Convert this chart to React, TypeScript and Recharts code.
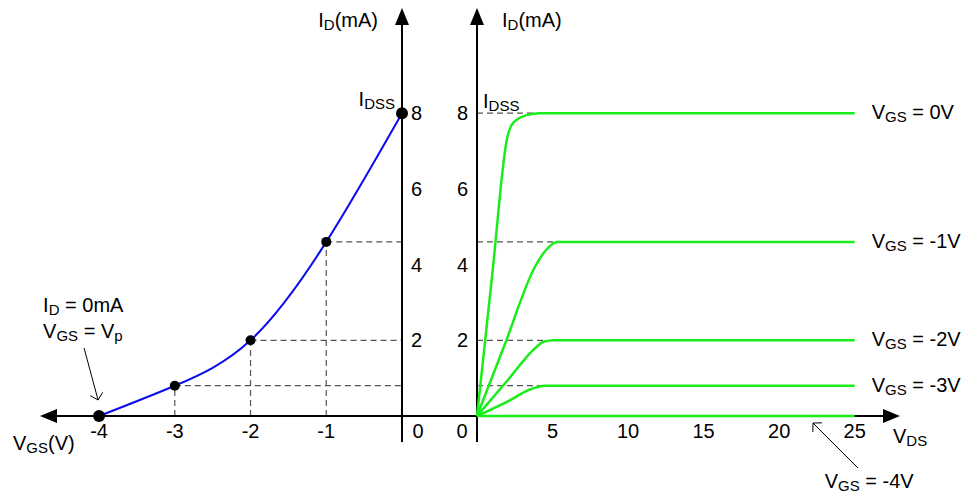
import { LineChart, Line, XAxis, YAxis, ReferenceLine, ReferenceDot } from "recharts";

const FONT = '"Liberation Sans", Arial, sans-serif';
const BLUE = "#0a0af0";
const GREEN = "#1aee1a";
const DASH = "#555";

// transfer curve (left)
const vgsPoints = [-4, -3, -2, -1, 0];
const idPoints = [0, 0.8, 2, 4.6, 8];
const vgsTicks = [-4, -3, -2, -1];

// drain curves (right)
const vgsNames = ["0V", "-1V", "-2V", "-3V", "-4V"];
const idSat = [8, 4.6, 2, 0.8, 0];
const kneeVds = [4.2, 5.3, 4.4, 4.4];
const vdsCurves = [
  [0, 1.0, 2.0, 2.4, 3.3, 4.2, 25],
  [0, 1.8, 3.85, 4.6, 5.3, 25],
  [0, 2.0, 3.95, 4.4, 5.1, 25],
  [0, 2.2, 3.5, 4.5, 25],
  [0, 25],
];
const idCurves = [
  [0, 3.7, 7.35, 7.75, 7.95, 8, 8],
  [0, 1.85, 3.95, 4.4, 4.6, 4.6],
  [0, 0.93, 1.83, 1.96, 2, 2],
  [0, 0.42, 0.7, 0.8, 0.8],
  [0, 0],
];
const vdsTicks = [5, 10, 15, 20, 25];
const idTicks = [2, 4, 6, 8];

const Y_MAX = 10.78;
const Y_MIN = -0.69;
const L_MIN = -4.78;
const R_MAX = 28;

const transfer = vgsPoints.map((x, i) => ({ x, y: idPoints[i] }));
const drain = vdsCurves.map((xs, k) => xs.map((x, i) => ({ x, y: idCurves[k][i] })));

const FS = 20;
const SUB_FS = 15;

type Part = { t: string; sub?: boolean };
const P = (t: string): Part => ({ t });
const S = (t: string): Part => ({ t, sub: true });

function Rich({ x, y, parts, anchor = "start" }: { x: number; y: number; parts: Part[]; anchor?: string }) {
  let down = false;
  return (
    <text x={x} y={y} textAnchor={anchor as any} fontFamily={FONT} fontSize={FS} fill="#000">
      {parts.map((p, i) => {
        const dy = p.sub ? (down ? 0 : 3) : down ? -3 : 0;
        down = !!p.sub;
        return (
          <tspan key={i} dy={dy} fontSize={p.sub ? SUB_FS : FS}>
            {p.t}
          </tspan>
        );
      })}
    </text>
  );
}

const note = (parts: Part[], dx: number, dy: number, anchor = "start") => (props: any) =>
  <Rich x={props.cx + dx} y={props.cy + dy} parts={parts} anchor={anchor} />;

// axis line with filled arrow head at the second point
const axisArrow = (props: any) => {
  const { x1, y1, x2, y2 } = props;
  const len = Math.hypot(x2 - x1, y2 - y1) || 1;
  const ux = (x2 - x1) / len;
  const uy = (y2 - y1) / len;
  const bx = x2 - ux * 17;
  const by = y2 - uy * 17;
  const px = -uy * 7;
  const py = ux * 7;
  return (
    <g>
      <line x1={x1} y1={y1} x2={bx} y2={by} stroke="#000" strokeWidth={2} />
      <polygon points={`${x2},${y2} ${bx + px},${by + py} ${bx - px},${by - py}`} fill="#000" />
    </g>
  );
};

// thin pointer with open head, offsets relative to the anchor point
const pointer = (tx: number, ty: number, hx: number, hy: number) => (props: any) => {
  const x1 = props.cx + tx;
  const y1 = props.cy + ty;
  const x2 = props.cx + hx;
  const y2 = props.cy + hy;
  const a = Math.atan2(y1 - y2, x1 - x2);
  const arm = (d: number) => [x2 + 9 * Math.cos(a + d), y2 + 9 * Math.sin(a + d)];
  const [ax, ay] = arm(0.8);
  const [bx, by] = arm(-0.8);
  return (
    <g stroke="#000" strokeWidth={1} fill="none">
      <line x1={x1} y1={y1} x2={x2} y2={y2} />
      <polyline points={`${ax},${ay} ${x2},${y2} ${bx},${by}`} />
    </g>
  );
};

const dashProps = { stroke: DASH, strokeWidth: 1.2, strokeDasharray: "6 4", ifOverflow: "visible" as const };
const tickStyle = { fontSize: FS, fontFamily: FONT, fill: "#000" };

const TransferDot = (props: any) => {
  const { cx, cy, index } = props;
  const r = index === 0 || index === vgsPoints.length - 1 ? 6 : 5;
  return <circle key={index} cx={cx} cy={cy} r={r} fill="#000" />;
};

const layer: React.CSSProperties = { position: "absolute", left: 0, top: 0 };

// back layer: axes and guide lines (no series, so a fixed domain is forced);
// front layer: series and text, unclipped so the end dots stay whole
function LeftChart({ front }: { front: boolean }) {
  return (
    <LineChart width={480} height={497} margin={{ top: 8, right: 38, left: 40, bottom: 51 }}>
      <XAxis
        dataKey="x"
        type="number"
        domain={[L_MIN, 0]}
        allowDataOverflow={!front}
        ticks={vgsTicks}
        axisLine={false}
        tickLine={false}
        tickSize={0}
        tickMargin={8}
        height={30}
        tick={front ? tickStyle : false}
      />
      <YAxis
        orientation="right"
        type="number"
        domain={[0, Y_MAX]}
        allowDataOverflow={!front}
        ticks={idTicks}
        axisLine={false}
        tickLine={false}
        tickSize={0}
        tickMargin={9}
        width={40}
        tick={front ? tickStyle : false}
      />
      {!front &&
        vgsPoints.slice(1, 4).map((v, i) => (
          <ReferenceLine key={"h" + v} segment={[{ x: v, y: idPoints[i + 1] }, { x: 0, y: idPoints[i + 1] }]} {...dashProps} />
        ))}
      {!front &&
        vgsPoints.slice(1, 4).map((v, i) => (
          <ReferenceLine key={"v" + v} segment={[{ x: v, y: 0 }, { x: v, y: idPoints[i + 1] }]} {...dashProps} />
        ))}
      {!front && <ReferenceLine segment={[{ x: 0.99, y: 0 }, { x: L_MIN, y: 0 }]} ifOverflow="visible" shape={axisArrow} />}
      {!front && <ReferenceLine segment={[{ x: 0, y: Y_MIN }, { x: 0, y: Y_MAX }]} ifOverflow="visible" shape={axisArrow} />}
      {front && (
        <Line
          data={transfer}
          dataKey="y"
          type="natural"
          stroke={BLUE}
          strokeWidth={2}
          dot={TransferDot}
          activeDot={false}
          isAnimationActive={false}
        />
      )}
      {front && <ReferenceDot x={0} y={Y_MAX} r={1} ifOverflow="visible" shape={note([P("I"), S("D"), P("(mA)")], -24, 18.5, "end")} />}
      {front && <ReferenceDot x={0} y={8} r={1} ifOverflow="visible" shape={note([P("I"), S("DSS")], -7, -7, "end")} />}
      {front && <ReferenceDot x={0} y={0} r={1} ifOverflow="visible" shape={note([P("0")], 16, 22, "middle")} />}
      {front && <ReferenceDot x={-4} y={0} r={1} ifOverflow="visible" shape={note([P("I"), S("D"), P(" = 0mA")], -56, -104.5)} />}
      {front && <ReferenceDot x={-4} y={0} r={1} ifOverflow="visible" shape={note([P("V"), S("GS"), P(" = V"), S("p")], -56, -78)} />}
      {front && <ReferenceDot x={-4} y={0} r={1} ifOverflow="visible" shape={pointer(-15, -68, -1, -16)} />}
      {front && <ReferenceDot x={L_MIN} y={0} r={1} ifOverflow="visible" shape={note([P("V"), S("GS"), P("(V)")], -27, 34)} />}
    </LineChart>
  );
}

function RightChart({ front }: { front: boolean }) {
  return (
    <LineChart width={964} height={497} margin={{ top: 8, right: 64, left: 437, bottom: 51 }}>
      <XAxis
        dataKey="x"
        type="number"
        domain={[0, R_MAX]}
        allowDataOverflow={!front}
        ticks={vdsTicks}
        axisLine={false}
        tickLine={false}
        tickSize={0}
        tickMargin={8}
        height={30}
        tick={front ? tickStyle : false}
      />
      <YAxis
        orientation="left"
        type="number"
        domain={[0, Y_MAX]}
        allowDataOverflow={!front}
        ticks={idTicks}
        axisLine={false}
        tickLine={false}
        tickSize={0}
        tickMargin={9}
        width={40}
        tick={front ? tickStyle : false}
      />
      {!front &&
        kneeVds.map((k, i) => (
          <ReferenceLine key={"d" + i} segment={[{ x: 0, y: idSat[i] }, { x: k, y: idSat[i] }]} {...dashProps} />
        ))}
      {!front && <ReferenceLine segment={[{ x: 0, y: 0 }, { x: R_MAX, y: 0 }]} ifOverflow="visible" shape={axisArrow} />}
      {!front && <ReferenceLine segment={[{ x: 0, y: Y_MIN }, { x: 0, y: Y_MAX }]} ifOverflow="visible" shape={axisArrow} />}
      {front &&
        drain.map((d, i) => (
          <Line
            key={vgsNames[i]}
            data={d}
            dataKey="y"
            type="monotone"
            stroke={GREEN}
            strokeWidth={2.5}
            dot={false}
            activeDot={false}
            isAnimationActive={false}
          />
        ))}
      {front &&
        vgsNames.slice(0, 4).map((n, i) => (
          <ReferenceDot
            key={"l" + n}
            x={25}
            y={idSat[i]}
            r={1}
            ifOverflow="visible"
            shape={note([P("V"), S("GS"), P(" = " + n)], 17, 6)}
          />
        ))}
      {front && <ReferenceDot x={25} y={0} r={1} ifOverflow="visible" shape={note([P("V"), S("GS"), P(" = " + vgsNames[4])], -30, 72)} />}
      {front && <ReferenceDot x={25} y={0} r={1} ifOverflow="visible" shape={pointer(3.3, 52, -41.7, 7)} />}
      {front && <ReferenceDot x={0} y={Y_MAX} r={1} ifOverflow="visible" shape={note([P("I"), S("D"), P("(mA)")], 25, 18.5)} />}
      {front && <ReferenceDot x={0} y={8} r={1} ifOverflow="visible" shape={note([P("I"), S("DSS")], 6, -5)} />}
      {front && <ReferenceDot x={0} y={0} r={1} ifOverflow="visible" shape={note([P("0")], -15, 22, "middle")} />}
      {front && <ReferenceDot x={R_MAX} y={0} r={1} ifOverflow="visible" shape={note([P("V"), S("DS")], -7, 27)} />}
    </LineChart>
  );
}

export default function App() {
  return (
    <div style={{ position: "absolute", left: 0, top: 0, width: 964, height: 497, background: "#fff", fontFamily: FONT }}>
      <div style={layer}>
        <LeftChart front={false} />
      </div>
      <div style={layer}>
        <RightChart front={false} />
      </div>
      <div style={layer}>
        <LeftChart front={true} />
      </div>
      <div style={layer}>
        <RightChart front={true} />
      </div>
    </div>
  );
}
